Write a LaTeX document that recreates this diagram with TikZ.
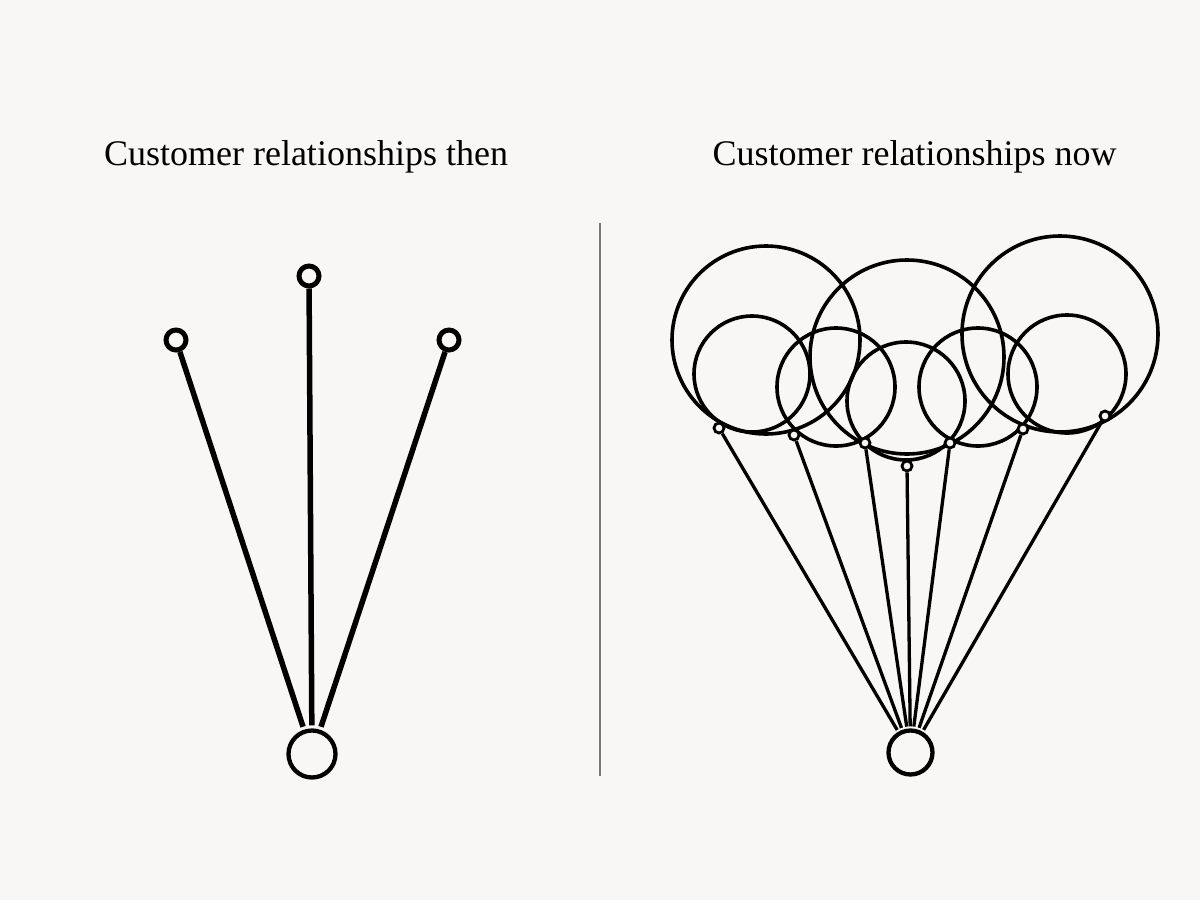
\documentclass[tikz,border=0pt]{standalone}
\usepackage{fontspec}
\setmainfont{Liberation Serif}
\definecolor{bg}{HTML}{F8F7F5}
\definecolor{divider}{HTML}{7A7A7A}
\begin{document}
\begin{tikzpicture}[x=1pt,y=-1pt,
  title/.style={font=\fontsize{36}{40}\selectfont, anchor=base, inner sep=0pt},
  knotA/.style={circle, draw, fill=bg, line width=5pt, minimum size=20pt, inner sep=0pt},
  hubA/.style={circle, draw, line width=4.3pt, minimum size=47pt, inner sep=0pt},
  lineA/.style={line width=5.5pt, shorten >=3pt},
  knotB/.style={circle, draw, fill=bg, line width=2.8pt, minimum size=10pt, inner sep=0pt},
  hubB/.style={circle, draw, line width=4.3pt, minimum size=44pt, inner sep=0pt},
  lineB/.style={line width=3.3pt, shorten >=2pt},
  balloon/.style={line width=3.6pt}]
\fill[bg] (0,0) rectangle (1200,900);
\useasboundingbox (0,0) rectangle (1200,900);

% titles
\node[title] (t1) at (306,165) {Customer relationships then};
\node[title] (t2) at (914.5,165) {Customer relationships now};

% divider
\coordinate (d1) at (600,223);
\coordinate (d2) at (600,776);
\draw[divider, line width=1.8pt] (d1) -- (d2);

% left: then
\node[hubA] (hA) at (312,754) {};
\node[knotA] (a1) at (176,340) {};
\node[knotA] (a2) at (309,276) {};
\node[knotA] (a3) at (449,340) {};
\draw[lineA] (a1) -- (hA);
\draw[lineA] (a2) -- (hA);
\draw[lineA] (a3) -- (hA);

% right: now -- balloons
\draw[balloon] (766,340) circle (94);
\draw[balloon] (907,357) circle (97);
\draw[balloon] (1060,334) circle (98);
\draw[balloon] (752,374) circle (58);
\draw[balloon] (836,387) circle (59);
\draw[balloon] (906,401) circle (59);
\draw[balloon] (978,387) circle (59);
\draw[balloon] (1067,374) circle (59);

\node[hubB] (hB) at (910.5,752.5) {};
\node[knotB] (b1) at (719,428) {};
\node[knotB] (b2) at (794,435) {};
\node[knotB] (b3) at (865,443) {};
\node[knotB] (b4) at (907,466) {};
\node[knotB] (b5) at (950,443) {};
\node[knotB] (b6) at (1023,429) {};
\node[knotB] (b7) at (1105,416) {};
\foreach \k in {b1,b2,b3,b4,b5,b6,b7} \draw[lineB] (\k) -- (hB);
\end{tikzpicture}
\end{document}
